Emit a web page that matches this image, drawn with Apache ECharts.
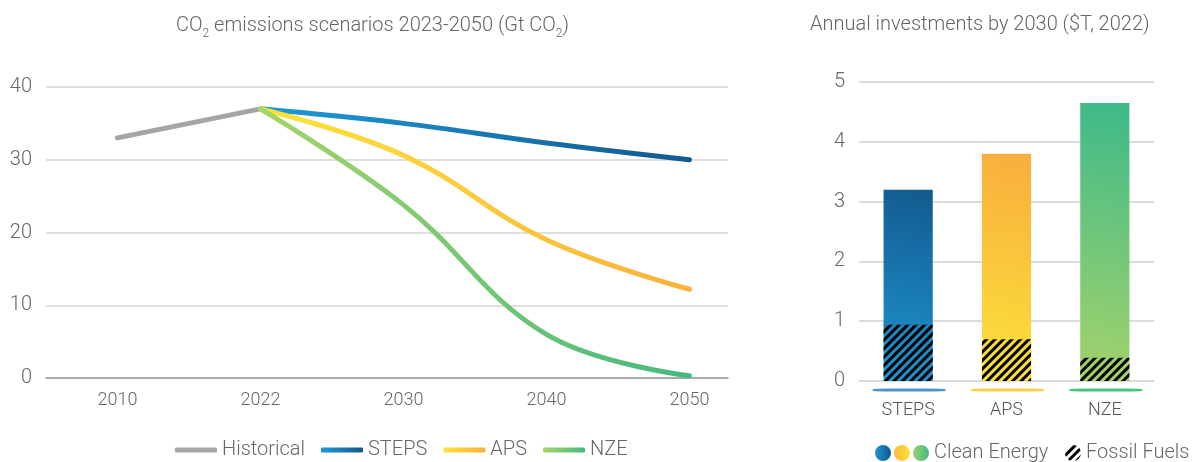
<!DOCTYPE html>
<html>
<head>
<meta charset="utf-8">
<script src="https://cdn.jsdelivr.net/npm/echarts@6/dist/echarts.min.js"></script>
<style>
  html, body { margin: 0; padding: 0; background: #fff; }
  #chart { width: 1194px; height: 462px; }
</style>
</head>
<body>
<div id="chart"></div>
<script>
// left chart: CO2 emissions (Gt CO2), one entry per x label
const years = ['2010', '2022', '2030', '2040', '2050']
const historical = [33, 37, null, null, null]
const steps = [null, 37, 35, 32.3, 30]
const aps = [null, 37, 30.6, 19, 12.2]
const nze = [null, 37, 23.8, 6, 0.3]

// right chart: annual investments by 2030 ($T)
const scenarios = ['STEPS', 'APS', 'NZE']
const cleanEnergy = [2.26, 3.1, 4.26]
const fossilFuels = [0.94, 0.7, 0.39]

const FONT = 'Roboto'
const grey = '#666'

const grad = (c0, c1, x = 0, y = 0, x2 = 1, y2 = 0) =>
  new echarts.graphic.LinearGradient(x, y, x2, y2, [
    { offset: 0, color: c0 },
    { offset: 1, color: c1 }
  ])

const toPoints = arr => arr.map((v, i) => (v == null ? null : [i, v])).filter(Boolean)

const lineColors = {
  Historical: '#a5a5a5',
  STEPS: grad('#1e9ad6', '#125a8e'),
  APS: grad('#fbe43a', '#fbb03b'),
  NZE: grad('#a6d46a', '#45b97f')
}

const barColors = [
  grad('#1f96d3', '#125a8e', 0, 1, 1, 0),
  grad('#fbe33a', '#f9ad3e', 0, 1, 1, 0),
  grad('#a5d36b', '#3db98a', 0, 1, 1, 0)
]
const underlineColors = ['#2178c4', '#ffc21a', '#16b35c']

const totals = cleanEnergy.map((v, i) => +(v + fossilFuels[i]).toFixed(2))

const threeDots = 'path://M8,0A8,8,0,1,1,8,16A8,8,0,1,1,8,0Z' +
  'M27,0A8,8,0,1,1,27,16A8,8,0,1,1,27,0Z' +
  'M46,0A8,8,0,1,1,46,16A8,8,0,1,1,46,0Z'

const legendText = { color: grey, fontSize: 20, fontFamily: FONT, fontWeight: 300 }

const lineSeries = (name, arr, z) => ({
  name,
  type: 'line',
  xAxisIndex: 0,
  yAxisIndex: 0,
  data: toPoints(arr),
  smooth: 0.4,
  symbol: 'none',
  z,
  color: lineColors[name],
  lineStyle: { width: 5, cap: 'round', color: lineColors[name] }
})

const chart = echarts.init(document.getElementById('chart'))

chart.setOption({
  animation: false,
  textStyle: { fontFamily: FONT },
  title: [
    {
      text: '{t|CO}{s|2}{t| emissions scenarios 2023-2050 (Gt CO}{s|2}{t|)}',
      left: 171,
      top: 7,
      textStyle: {
        rich: {
          t: { fontSize: 20, color: grey, fontFamily: FONT, fontWeight: 300, lineHeight: 28 },
          s: { fontSize: 12, color: grey, fontFamily: FONT, fontWeight: 300, lineHeight: 17, verticalAlign: 'bottom' }
        }
      }
    },
    {
      text: 'Annual investments by 2030 ($T, 2022)',
      left: 805,
      top: 10,
      textStyle: { fontSize: 20, color: grey, fontFamily: FONT, fontWeight: 300 }
    }
  ],
  legend: [
    {
      left: 170,
      top: 435,
      icon: 'roundRect',
      itemWidth: 42,
      itemHeight: 5,
      itemGap: 16,
      textStyle: legendText,
      data: ['Historical', 'STEPS', 'APS', 'NZE']
    },
    {
      left: 870,
      top: 438,
      itemWidth: 54,
      itemHeight: 16,
      textStyle: legendText,
      data: [{ name: 'Clean Energy', icon: threeDots }]
    },
    {
      left: 1060,
      top: 438,
      icon: 'circle',
      itemWidth: 16,
      itemHeight: 16,
      textStyle: legendText,
      data: ['Fossil Fuels']
    }
  ],
  grid: [
    { left: 46, right: 466, top: 87, bottom: 84 },
    { left: 859, right: 40, top: 82, bottom: 81 }
  ],
  xAxis: [
    {
      gridIndex: 0,
      type: 'value',
      min: -0.5,
      max: 4.27,
      axisLine: { onZero: false, lineStyle: { color: '#9a9a9a', width: 1.5 } },
      axisTick: { show: false },
      splitLine: { show: false },
      axisLabel: {
        customValues: [0, 1, 2, 3, 4],
        formatter: v => years[v],
        color: grey,
        fontSize: 18,
        fontWeight: 300,
        margin: 13
      }
    },
    {
      gridIndex: 1,
      type: 'category',
      data: scenarios,
      axisLine: { lineStyle: { color: '#dadada', width: 1.5 } },
      axisTick: { show: false },
      axisLabel: { color: '#555', fontSize: 18, fontWeight: 300, margin: 20 }
    }
  ],
  yAxis: [
    {
      gridIndex: 0,
      type: 'value',
      min: 0,
      max: 40,
      interval: 10,
      axisLine: { show: false },
      axisTick: { show: false },
      axisLabel: { color: grey, fontSize: 20, fontWeight: 300, margin: 14 },
      splitLine: { lineStyle: { color: '#d4d4d4', width: 1.5 } }
    },
    {
      gridIndex: 1,
      type: 'value',
      min: 0,
      max: 5,
      interval: 1,
      axisLine: { show: false },
      axisTick: { show: false },
      axisLabel: { color: grey, fontSize: 20, fontWeight: 300, margin: 14 },
      splitLine: { lineStyle: { color: '#cfcfcf', width: 1.5 } }
    }
  ],
  series: [
    lineSeries('Historical', historical, 2),
    lineSeries('STEPS', steps, 3),
    lineSeries('APS', aps, 4),
    lineSeries('NZE', nze, 5),
    {
      name: 'Clean Energy',
      type: 'bar',
      xAxisIndex: 1,
      yAxisIndex: 1,
      barWidth: '50%',
      itemStyle: {
        color: new echarts.graphic.LinearGradient(0, 0, 1, 0, [
          { offset: 0, color: '#1f96d3' },
          { offset: 0.29, color: '#125a8e' },
          { offset: 0.33, color: '#f9b63e' },
          { offset: 0.65, color: '#fbe33a' },
          { offset: 0.69, color: '#a5d36b' },
          { offset: 1, color: '#3db98a' }
        ])
      },
      data: totals.map((v, i) => ({ value: v, itemStyle: { color: barColors[i] } }))
    },
    {
      name: 'Fossil Fuels',
      type: 'bar',
      xAxisIndex: 1,
      yAxisIndex: 1,
      barWidth: '50%',
      barGap: '-100%',
      z: 3,
      itemStyle: {
        color: 'rgba(0,0,0,0)',
        decal: {
          symbol: 'rect',
          symbolSize: 1,
          color: '#000',
          dashArrayX: [1, 0],
          dashArrayY: [3, 3],
          rotation: -Math.PI / 4
        }
      },
      data: fossilFuels
    },
    {
      name: 'underline',
      type: 'scatter',
      xAxisIndex: 1,
      yAxisIndex: 1,
      clip: false,
      silent: true,
      symbol: 'roundRect',
      symbolSize: [73, 3],
      symbolOffset: [1, 9],
      data: scenarios.map((s, i) => ({ value: 0, itemStyle: { color: underlineColors[i] } }))
    }
  ]
})
</script>
</body>
</html>
